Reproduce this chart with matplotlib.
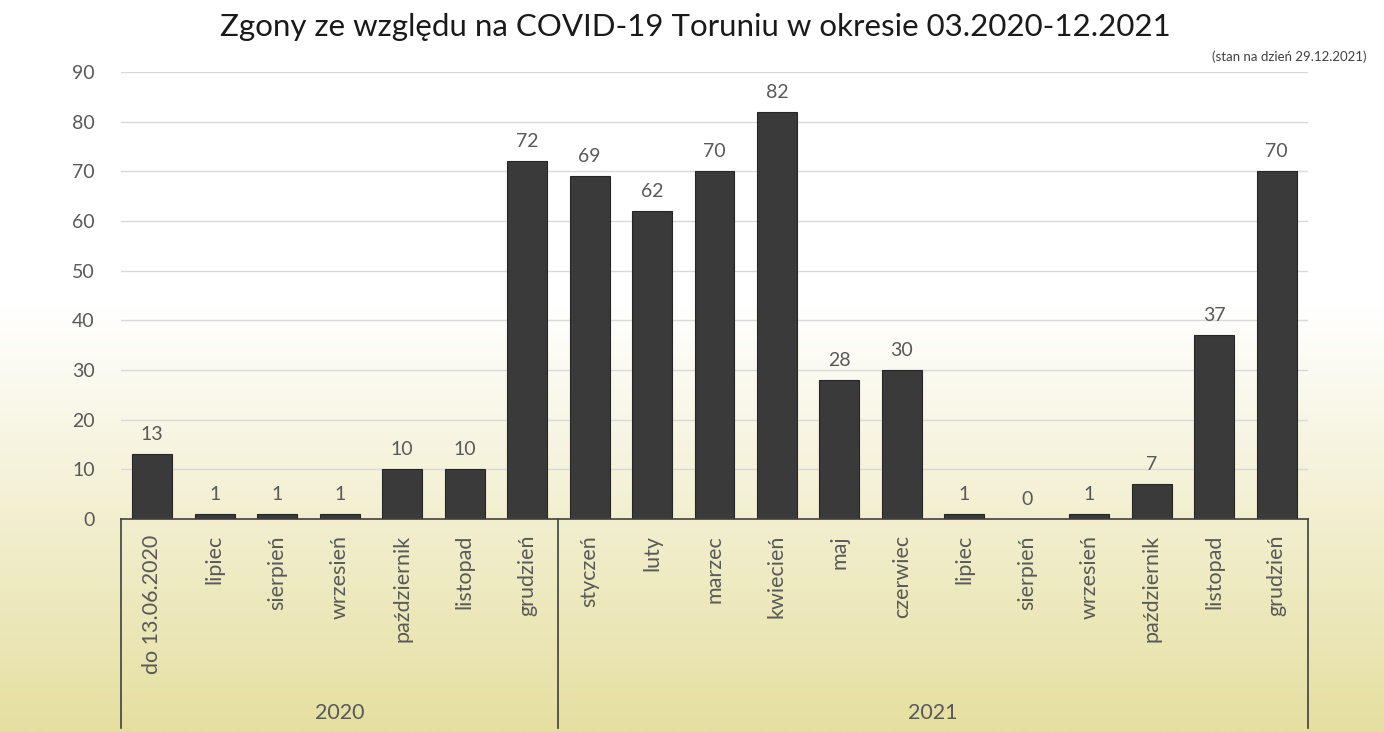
import numpy as np
import matplotlib
matplotlib.use("Agg")
import matplotlib.pyplot as plt
from matplotlib.transforms import blended_transform_factory

categories = ["do 13.06.2020", "lipiec", "sierpień", "wrzesień", "październik", "listopad", "grudzień",
              "styczeń", "luty", "marzec", "kwiecień", "maj", "czerwiec", "lipiec", "sierpień",
              "wrzesień", "październik", "listopad", "grudzień"]
values = [13, 1, 1, 1, 10, 10, 72, 69, 62, 70, 82, 28, 30, 1, 0, 1, 7, 37, 70]
years = ["2020", "2021"]
year_counts = [7, 12]
yticks = [0, 10, 20, 30, 40, 50, 60, 70, 80, 90]

plt.rcParams['font.family'] = ['Lato', 'DejaVu Sans']
txt = "#595959"

fig = plt.figure(figsize=(13.84, 7.32), dpi=100)

# background gradient
bg = fig.add_axes([0, 0, 1, 1], zorder=-10)
h = 400
yy = np.linspace(0, 1, h)[:, None]  # 0 top, 1 bottom
start = 0.42
t = np.clip((yy - start) / (1 - start), 0, 1)
top_c = np.array([1.0, 1.0, 1.0])
bot_c = np.array([229, 223, 160]) / 255.0
img = top_c[None, None, :] * (1 - t[..., None]) + bot_c[None, None, :] * t[..., None]
img = np.repeat(img, 2, axis=1)
bg.imshow(img, aspect='auto', extent=[0, 1, 0, 1])
bg.axis('off')

ax = fig.add_axes([121 / 1384, 1 - 519 / 732, (1308 - 121) / 1384, (519 - 72) / 732])
ax.patch.set_alpha(0)
x = np.arange(len(categories))
ax.bar(x, values, width=0.64, color="#3a3a3a", edgecolor="#262626", linewidth=0.8, zorder=3)
ax.set_xlim(-0.5, len(categories) - 0.5)
ax.set_ylim(0, 90)
ax.set_yticks(yticks)
ax.tick_params(axis='y', length=0, labelsize=14, labelcolor=txt, pad=19)
ax.set_xticks([])
ax.yaxis.grid(True, color="#d9d9d9", linewidth=1)
ax.set_axisbelow(True)
for s in ['left', 'right', 'top']:
    ax.spines[s].set_visible(False)
ax.spines['bottom'].set_color("#404040")
ax.spines['bottom'].set_linewidth(1.2)
ax.spines['bottom'].set_zorder(4)

for xi, v in zip(x, values):
    ax.annotate(str(v), (xi, v), xytext=(0, 8), textcoords='offset points',
                ha='center', va='bottom', fontsize=14, color=txt)

trans = blended_transform_factory(ax.transData, ax.transAxes)
ybot = -(728 - 519) / 447
for xi, lab in zip(x, categories):
    ax.text(xi, -16 / 447, lab, rotation=90, ha='center', va='top', fontsize=15.5,
            color=txt, transform=trans)

pos = -0.5
ax.plot([pos, pos], [0, ybot], color="#404040", lw=1.2, transform=trans, clip_on=False)
for yl, cnt in zip(years, year_counts):
    end = pos + cnt
    ax.plot([end, end], [0, ybot], color="#404040", lw=1.2, transform=trans, clip_on=False)
    ax.text((pos + end) / 2, -(713 - 519) / 447, yl, ha='center', va='center', fontsize=15.5,
            color=txt, transform=trans)
    pos = end

fig.text(0.5025, 1 - 27 / 732, "Zgony ze względu na COVID-19 Toruniu w okresie 03.2020-12.2021",
         ha='center', va='center', fontsize=22.5, color="#1a1a1a")
fig.text(1367 / 1384, 1 - 57 / 732, "(stan na dzień 29.12.2021)", ha='right', va='center',
         fontsize=9.5, color="#404040")

fig.savefig("out.png", dpi=100)
